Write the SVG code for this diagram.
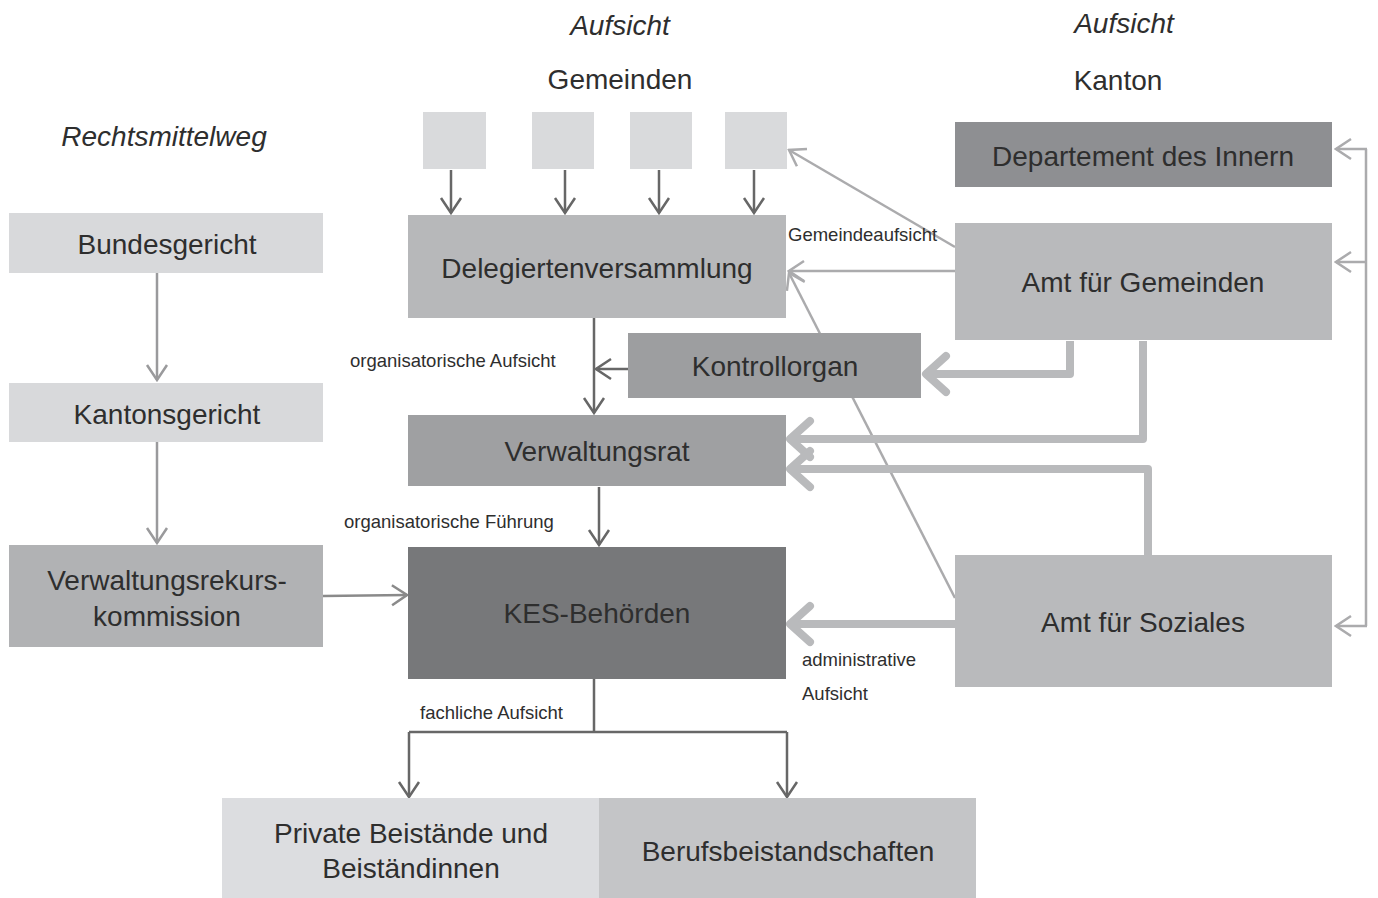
<svg xmlns="http://www.w3.org/2000/svg" width="1378" height="898" viewBox="0 0 1378 898">
<style>
text{font-family:"Liberation Sans",Arial,sans-serif;fill:#2e2e2e}
.b{font-size:28px;text-anchor:middle}
.h{font-size:28px;text-anchor:middle}
.i{font-style:italic}
.s{font-size:18.5px}
.dk{stroke:#676767;stroke-width:2.5;fill:none}
.md{stroke:#8a8a8a;stroke-width:2.5;fill:none}
.lt{stroke:#ababad;stroke-width:2.5;fill:none}
.tk{stroke:#b9babc;stroke-width:8;fill:none;stroke-linejoin:round}
</style>
<defs>
<marker id="ad" viewBox="0 0 20 24" refX="18" refY="12" markerWidth="20" markerHeight="24" markerUnits="userSpaceOnUse" orient="auto"><path d="M3,2 L18,12 L3,22" fill="none" stroke="#676767" stroke-width="2.5"/></marker>
<marker id="am" viewBox="0 0 20 24" refX="18" refY="12" markerWidth="20" markerHeight="24" markerUnits="userSpaceOnUse" orient="auto"><path d="M3,2 L18,12 L3,22" fill="none" stroke="#8a8a8a" stroke-width="2.5"/></marker>
<marker id="ag" viewBox="0 0 20 24" refX="18" refY="12" markerWidth="20" markerHeight="24" markerUnits="userSpaceOnUse" orient="auto"><path d="M3,2 L18,12 L3,22" fill="none" stroke="#9a9a9c" stroke-width="2.5"/></marker>
<marker id="al" viewBox="0 0 20 24" refX="18" refY="12" markerWidth="20" markerHeight="24" markerUnits="userSpaceOnUse" orient="auto"><path d="M3,2 L18,12 L3,22" fill="none" stroke="#ababad" stroke-width="2.5"/></marker>
<marker id="at" viewBox="0 0 34 48" refX="28" refY="24" markerWidth="34" markerHeight="48" markerUnits="userSpaceOnUse" orient="auto"><path d="M8,6 L28,24 L8,42" fill="none" stroke="#b9babc" stroke-width="8" stroke-linecap="round" stroke-linejoin="round"/></marker>
</defs>
<rect width="1378" height="898" fill="#ffffff"/>

<g id="headers">
<text class="h i" x="620" y="35">Aufsicht</text>
<text class="h" x="620" y="89">Gemeinden</text>
<text class="h i" x="1124" y="33">Aufsicht</text>
<text class="h" x="1118" y="90">Kanton</text>
<text class="h i" x="164" y="146">Rechtsmittelweg</text>
</g>

<g id="connectors">
<line class="dk" x1="451" y1="170" x2="451" y2="213" marker-end="url(#ad)"/>
<line class="dk" x1="565" y1="170" x2="565" y2="213" marker-end="url(#ad)"/>
<line class="dk" x1="659" y1="170" x2="659" y2="213" marker-end="url(#ad)"/>
<line class="dk" x1="754" y1="170" x2="754" y2="213" marker-end="url(#ad)"/>
<line class="dk" x1="594" y1="318" x2="594" y2="413" marker-end="url(#ad)"/>
<line class="dk" x1="628" y1="369" x2="596" y2="369" marker-end="url(#ad)"/>
<line class="dk" x1="599" y1="487" x2="599" y2="545" marker-end="url(#ad)"/>
<path class="dk" d="M594,679 V732 M409,732 H787"/>
<line class="dk" x1="409" y1="732" x2="409" y2="797" marker-end="url(#ad)"/>
<line class="dk" x1="787" y1="732" x2="787" y2="797" marker-end="url(#ad)"/>
<line class="md" x1="323" y1="596" x2="407" y2="595" marker-end="url(#am)"/>
<line class="md" x1="157" y1="273" x2="157" y2="380" marker-end="url(#ag)" style="stroke:#9a9a9c"/>
<line class="md" x1="157" y1="442" x2="157" y2="543" marker-end="url(#ag)" style="stroke:#9a9a9c"/>
<line class="lt" x1="955" y1="247" x2="789" y2="150" marker-end="url(#al)"/>
<line class="lt" x1="955" y1="271" x2="789" y2="271" marker-end="url(#al)"/>
<line class="lt" x1="955" y1="598" x2="789" y2="273" marker-end="url(#al)"/>
<line class="lt" x1="1366" y1="149" x2="1366" y2="626"/>
<line class="lt" x1="1367" y1="149" x2="1336" y2="149" marker-end="url(#al)"/>
<line class="lt" x1="1367" y1="262" x2="1336" y2="262" marker-end="url(#al)"/>
<line class="lt" x1="1367" y1="626" x2="1336" y2="626" marker-end="url(#al)"/>
<path class="tk" d="M1070,341 V374 H926" marker-end="url(#at)"/>
<path class="tk" d="M1143,341 V439 H790" marker-end="url(#at)"/>
<path class="tk" d="M1148,555 V469 H790" marker-end="url(#at)"/>
<path class="tk" d="M955,624 H790" marker-end="url(#at)"/>
</g>

<g id="labels">
<text class="s" x="788" y="241">Gemeindeaufsicht</text>
<text class="s" x="350" y="367">organisatorische Aufsicht</text>
<text class="s" x="344" y="528">organisatorische Führung</text>
<text class="s" x="802" y="666">administrative</text>
<text class="s" x="802" y="700">Aufsicht</text>
<text class="s" x="420" y="719">fachliche Aufsicht</text>
</g>

<g id="gemeinde1"><rect x="423" y="112" width="63" height="57" fill="#d9dadc"/></g>
<g id="gemeinde2"><rect x="532" y="112" width="62" height="57" fill="#d9dadc"/></g>
<g id="gemeinde3"><rect x="630" y="112" width="62" height="57" fill="#d9dadc"/></g>
<g id="gemeinde4"><rect x="725" y="112" width="62" height="57" fill="#d9dadc"/></g>

<g id="delegiertenversammlung"><rect x="408" y="215" width="378" height="103" fill="#b7b8ba"/><text class="b" x="597" y="278">Delegiertenversammlung</text></g>
<g id="kontrollorgan"><rect x="628" y="333" width="293" height="65" fill="#9d9ea0"/><text class="b" x="775" y="376">Kontrollorgan</text></g>
<g id="verwaltungsrat"><rect x="408" y="415" width="378" height="71" fill="#9fa0a2"/><text class="b" x="597" y="461">Verwaltungsrat</text></g>
<g id="kes"><rect x="408" y="547" width="378" height="132" fill="#77787a"/><text class="b" x="597" y="623">KES-Behörden</text></g>
<g id="private"><rect x="222" y="798" width="377" height="100" fill="#dcdde0"/><text class="b" x="411" y="843">Private Beistände und</text><text class="b" x="411" y="878">Beiständinnen</text></g>
<g id="berufs"><rect x="599" y="798" width="377" height="100" fill="#c4c5c7"/><text class="b" x="788" y="861">Berufsbeistandschaften</text></g>
<g id="bundesgericht"><rect x="9" y="213" width="314" height="60" fill="#d8d9db"/><text class="b" x="167" y="254">Bundesgericht</text></g>
<g id="kantonsgericht"><rect x="9" y="383" width="314" height="59" fill="#d8d9db"/><text class="b" x="167" y="424">Kantonsgericht</text></g>
<g id="verwaltungsrekurs"><rect x="9" y="545" width="314" height="102" fill="#b1b2b4"/><text class="b" x="167" y="590">Verwaltungsrekurs-</text><text class="b" x="167" y="626">kommission</text></g>
<g id="departement"><rect x="955" y="122" width="377" height="65" fill="#8e8f92"/><text class="b" x="1143" y="166">Departement des Innern</text></g>
<g id="amtgemeinden"><rect x="955" y="223" width="377" height="117" fill="#b9babc"/><text class="b" x="1143" y="292">Amt für Gemeinden</text></g>
<g id="amtsoziales"><rect x="955" y="555" width="377" height="132" fill="#b9babc"/><text class="b" x="1143" y="632">Amt für Soziales</text></g>
</svg>
